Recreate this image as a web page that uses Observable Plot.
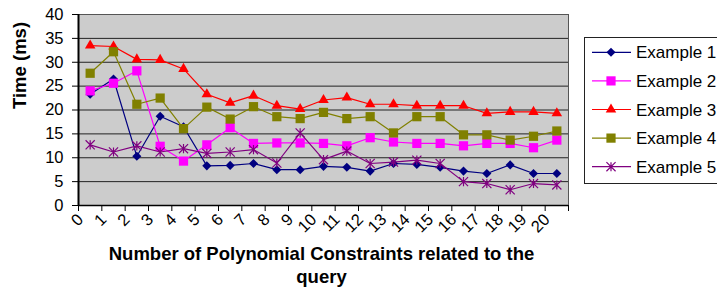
<!DOCTYPE html>
<html>
<head>
<meta charset="utf-8">
<script src="https://cdn.jsdelivr.net/npm/d3@7"></script>
<script src="https://cdn.jsdelivr.net/npm/@observablehq/plot@0.6"></script>
<style>
  body { margin: 0; background: #fff; }
  #wrap { position: relative; width: 717px; height: 292px; overflow: hidden; font-family: "Liberation Sans", Arial, sans-serif; }
  #legend { position: absolute; left: 0; top: 0; pointer-events: none; }
</style>
</head>
<body>
<div id="wrap"></div>
<script>
const xLabels = ["0","1","2","3","4","5","6","7","8","9","10","11","12","13","14","15","16","17","18","19","20"];
const yTicks = [0, 5, 10, 15, 20, 25, 30, 35, 40];
const seriesNames = ["Example 1", "Example 2", "Example 3", "Example 4", "Example 5"];
const seriesColors = ["#000080", "#ff00ff", "#ff0000", "#808000", "#800080"];
const ex1 = [23.3, 26.5, 10.3, 18.7, 16.5, 8.3, 8.4, 8.8, 7.5, 7.5, 8.2, 8.0, 7.2, 8.8, 8.6, 8.0, 7.2, 6.7, 8.5, 6.7, 6.7];
const ex2 = [24.0, 25.6, 28.2, 12.4, 9.3, 12.7, 16.3, 13.0, 13.1, 13.1, 13.0, 12.5, 14.2, 13.3, 13.0, 13.0, 12.5, 13.0, 13.0, 12.1, 13.7];
const ex3 = [33.5, 33.3, 30.6, 30.5, 28.6, 23.3, 21.5, 23.0, 20.9, 20.2, 22.1, 22.6, 21.2, 21.2, 20.9, 20.9, 20.9, 19.3, 19.6, 19.6, 19.3];
const ex4 = [27.7, 32.2, 21.2, 22.5, 16.1, 20.6, 18.1, 20.7, 18.6, 18.2, 19.5, 18.2, 18.6, 15.2, 18.6, 18.6, 14.8, 14.8, 13.7, 14.5, 15.6];
const ex5 = [12.7, 11.2, 12.5, 11.2, 11.9, 10.9, 11.2, 11.7, 8.9, 15.2, 9.6, 11.4, 8.8, 9.1, 9.5, 8.8, 5.0, 4.6, 3.3, 4.6, 4.3];
const seriesValues = [ex1, ex2, ex3, ex4, ex5];

// Excel-style star marker: an X with a vertical bar
const starSymbol = {
  draw(ctx, size) {
    const r = Math.sqrt(size) * 0.6;
    ctx.moveTo(-r, -r); ctx.lineTo(r, r);
    ctx.moveTo(-r, r); ctx.lineTo(r, -r);
    ctx.moveTo(0, -r); ctx.lineTo(0, r);
  }
};
const markers = [
  {symbol: "diamond2", r: 4.1, filled: true},
  {symbol: "square", r: 5.2, filled: true},
  {symbol: "triangle", r: 3.9, filled: true},
  {symbol: "square", r: 5.2, filled: true},
  {symbol: starSymbol, r: 4.3, filled: false}
];

const xPos = (d, i) => i + 0.5;
const seriesMarks = seriesValues.flatMap((vals, s) => [
  Plot.line(vals, {x: xPos, y: d => d, stroke: seriesColors[s], strokeWidth: 1.2}),
  Plot.dot(vals, markers[s].filled
    ? {x: xPos, y: d => d, symbol: markers[s].symbol, r: markers[s].r, fill: seriesColors[s], stroke: "none"}
    : {x: xPos, y: d => d, symbol: markers[s].symbol, r: markers[s].r, fill: "none", stroke: seriesColors[s], strokeWidth: 1.2})
]);

const chart = Plot.plot({
  width: 717,
  height: 292,
  marginLeft: 78,
  marginRight: 149,
  marginTop: 14,
  marginBottom: 87,
  style: {fontFamily: "'Liberation Sans', Arial, sans-serif", fontSize: "16px", background: "transparent"},
  x: {type: "linear", domain: [0, xLabels.length], axis: null},
  y: {domain: [0, 40], axis: null},
  marks: [
    Plot.frame({fill: "#cccccc", stroke: "#555"}),
    Plot.ruleY(yTicks.slice(1, -1), {stroke: "#222", strokeWidth: 1}),
    Plot.axisY({ticks: yTicks, tickSize: 6, tickPadding: 9, fontSize: 16.5, label: null, stroke: "#000"}),
    Plot.axisX({ticks: d3.range(xLabels.length + 1), tickSize: 6, tickFormat: () => "", label: null, stroke: "#000"}),
    Plot.ruleX([0], {stroke: "#000", strokeWidth: 2}),
    Plot.ruleY([0], {stroke: "#000", strokeWidth: 1.5}),
    Plot.text(xLabels, {x: xPos, text: d => d, frameAnchor: "bottom", rotate: -45, textAnchor: "end", dx: -6, dy: 15, fontSize: 16.5}),
    ...seriesMarks,
    Plot.text(["Number of Polynomial Constraints related to the\nquery"], {frameAnchor: "bottom", lineAnchor: "top", dy: 38, dx: -2, fontWeight: "bold", fontSize: 18.5, lineHeight: 1.25}),
    Plot.text(["Time (ms)"], {frameAnchor: "left", rotate: -90, dx: -58, dy: -1, fontWeight: "bold", fontSize: 18.5})
  ]
});

const wrap = document.getElementById("wrap");
wrap.appendChild(chart);

// Legend (drawn as an overlay at the right side)
const leg = d3.select(wrap).append("svg")
  .attr("id", "legend").attr("width", 717).attr("height", 292);
leg.append("rect").attr("x", 584.5).attr("y", 37.5).attr("width", 160).attr("height", 146)
  .attr("fill", "#fff").attr("stroke", "#222");
const d3Types = {diamond2: d3.symbolDiamond2, square: d3.symbolSquare, triangle: d3.symbolTriangle};
seriesNames.forEach((name, s) => {
  const cy = 52.3 + s * 28.6;
  const g = leg.append("g");
  g.append("line").attr("x1", 592).attr("x2", 631).attr("y1", cy).attr("y2", cy)
    .attr("stroke", seriesColors[s]).attr("stroke-width", 1.2);
  const m = markers[s];
  const type = typeof m.symbol === "string" ? d3Types[m.symbol] : m.symbol;
  g.append("path").attr("transform", `translate(611,${cy})`)
    .attr("d", d3.symbol(type, m.r * m.r * Math.PI)())
    .attr("fill", m.filled ? seriesColors[s] : "none")
    .attr("stroke", m.filled ? "none" : seriesColors[s]).attr("stroke-width", 1.2);
  g.append("text").attr("x", 636).attr("y", cy).attr("dy", "0.36em")
    .attr("font-family", "'Liberation Sans', Arial, sans-serif").attr("font-size", 17).text(name);
});
</script>
</body>
</html>
